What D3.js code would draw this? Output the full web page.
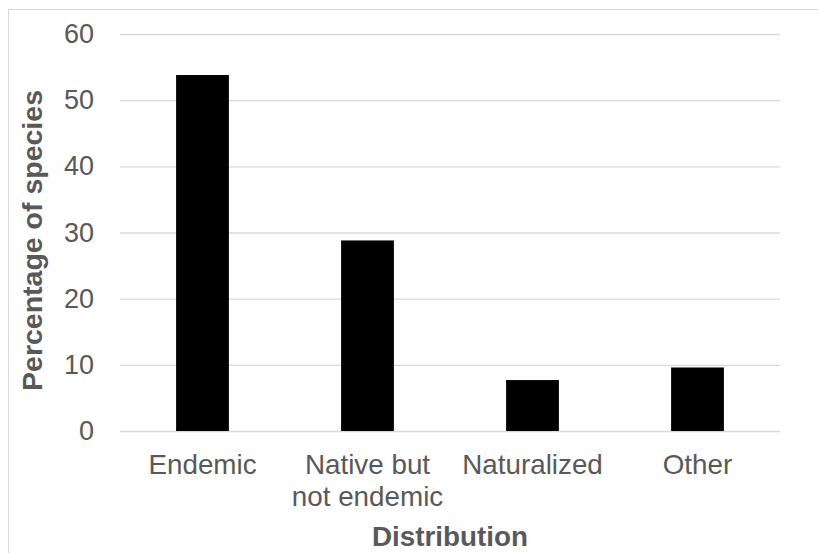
<!DOCTYPE html>
<html>
<head>
<meta charset="utf-8">
<script src="https://cdn.jsdelivr.net/npm/d3@7"></script>
<style>
  html, body { margin: 0; padding: 0; background: #fff; }
  svg { display: block; }
  text { font-family: "Liberation Sans", Arial, sans-serif; fill: #595959; }
</style>
</head>
<body>
<svg id="chart" width="818" height="553"></svg>
<script>
// Share of species by distribution class
const categories = ["Endemic", "Native but|not endemic", "Naturalized", "Other"];
const percentages = [53.8, 28.8, 7.7, 9.6];
const yTicks = [0, 10, 20, 30, 40, 50, 60];

const svg = d3.select("#chart");
const W = 818, H = 553;
const plot = { left: 120, right: 780, top: 34, bottom: 431 };

// chart area frame
svg.append("rect")
  .attr("x", 8.5).attr("y", 9.5)
  .attr("width", W).attr("height", H)
  .attr("fill", "none").attr("stroke", "#d9d9d9").attr("stroke-width", 1);

const x = d3.scaleBand()
  .domain(categories)
  .range([plot.left, plot.right])
  .paddingInner(0.68)
  .paddingOuter(0.34);

const y = d3.scaleLinear()
  .domain([0, 60])
  .range([plot.bottom, plot.top]);

// horizontal gridlines
const yAxis = d3.axisLeft(y)
  .tickValues(yTicks)
  .tickSize(-(plot.right - plot.left))
  .tickPadding(26)
  .tickFormat(d3.format("d"));

const gy = svg.append("g")
  .attr("transform", `translate(${plot.left},0)`)
  .call(yAxis);
gy.select(".domain").remove();
gy.selectAll(".tick line").attr("stroke", "#d9d9d9").attr("stroke-width", 1.3);
gy.selectAll(".tick text")
  .attr("font-size", 27)
  .attr("fill", "#595959")
  .attr("font-family", "Liberation Sans, Arial, sans-serif");

// bars
svg.append("g").selectAll("rect")
  .data(categories.map((c, i) => ({ c, v: percentages[i] })))
  .join("rect")
  .attr("x", d => x(d.c))
  .attr("y", d => y(d.v))
  .attr("width", x.bandwidth())
  .attr("height", d => y(0) - y(d.v))
  .attr("fill", "#000");

// category labels (x axis without ticks or line)
const xAxis = d3.axisBottom(x).tickSize(0).tickFormat("");
const gx = svg.append("g")
  .attr("transform", `translate(0,${plot.bottom})`)
  .call(xAxis);
gx.select(".domain").remove();
gx.selectAll(".tick").each(function (d) {
  const lines = d.split("|");
  const t = d3.select(this).append("text")
    .attr("text-anchor", "middle")
    .attr("font-size", 27.8)
    .attr("fill", "#595959");
  lines.forEach((ln, i) => {
    t.append("tspan")
      .attr("x", 0)
      .attr("y", 42.5 + i * 32.7)
      .text(ln);
  });
});

// axis titles
svg.append("text")
  .attr("x", (plot.left + plot.right) / 2)
  .attr("y", 546)
  .attr("text-anchor", "middle")
  .attr("font-size", 27.8)
  .attr("font-weight", "bold")
  .text("Distribution");

svg.append("text")
  .attr("transform", `translate(42,${(plot.top + plot.bottom) / 2 + 8}) rotate(-90)`)
  .attr("text-anchor", "middle")
  .attr("font-size", 28.5)
  .attr("font-weight", "bold")
  .text("Percentage of species");
</script>
</body>
</html>
